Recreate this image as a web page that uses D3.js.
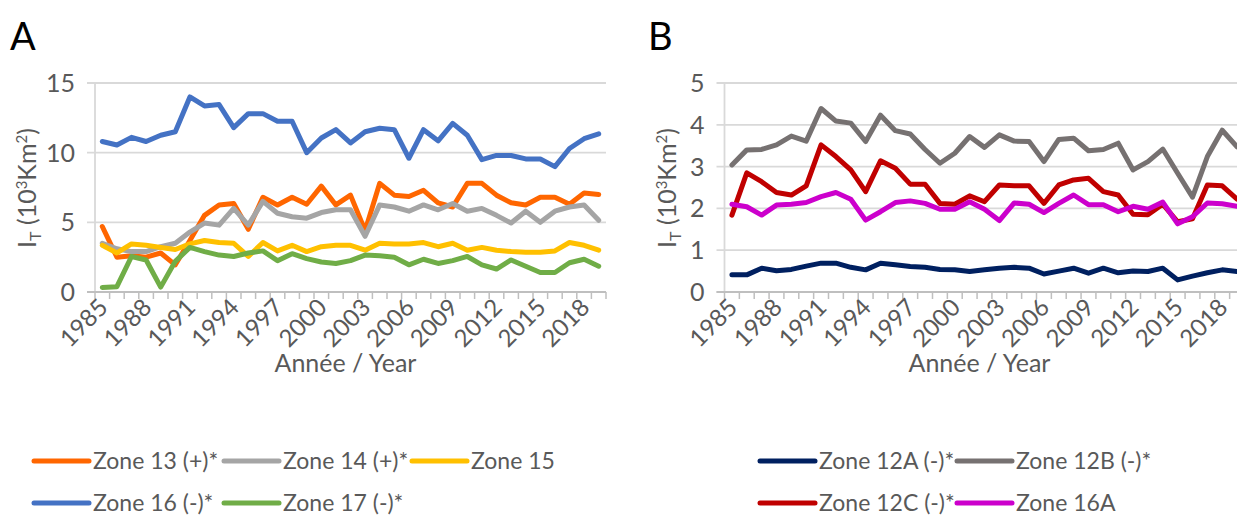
<!DOCTYPE html>
<html><head><meta charset="utf-8">
<script src="https://cdn.jsdelivr.net/npm/d3@7"></script>
<style>
body{margin:0;background:#fff}
svg{display:block}
text{font-family:Lato,"Open Sans",sans-serif;fill:#595959}
</style>
</head><body>
<svg id="c" width="1237" height="517"></svg>
<script>
// ---------- data ----------
const years = [1985,1986,1987,1988,1989,1990,1991,1992,1993,1994,1995,1996,1997,1998,1999,2000,2001,2002,2003,2004,2005,2006,2007,2008,2009,2010,2011,2012,2013,2014,2015,2016,2017,2018,2019];
const yearLabels = [1985,1988,1991,1994,1997,2000,2003,2006,2009,2012,2015,2018];
const yTicksA = [0,5,10,15];
const yTicksB = [0,1,2,3,4,5];

const zone13 = [4.7,2.5,2.6,2.5,2.8,1.95,3.7,5.5,6.25,6.35,4.5,6.8,6.25,6.8,6.3,7.6,6.25,6.95,4.4,7.8,6.95,6.85,7.3,6.4,6.1,7.8,7.8,6.95,6.4,6.25,6.8,6.8,6.3,7.1,7.0];
const zone14 = [3.5,3.1,2.9,2.9,3.25,3.5,4.3,4.95,4.8,6.0,4.8,6.5,5.65,5.4,5.3,5.7,5.9,5.9,4.0,6.25,6.1,5.8,6.25,5.9,6.35,5.8,6.0,5.5,4.95,5.8,5.0,5.8,6.1,6.25,5.15];
const zone15 = [3.35,2.8,3.45,3.35,3.2,3.05,3.45,3.7,3.55,3.5,2.55,3.55,2.95,3.35,2.9,3.25,3.35,3.35,3.0,3.5,3.45,3.45,3.55,3.25,3.5,3.0,3.2,3.0,2.9,2.85,2.85,2.95,3.55,3.35,3.0];
const zone16 = [10.8,10.55,11.1,10.8,11.25,11.5,14.0,13.35,13.45,11.8,12.8,12.8,12.25,12.25,10.0,11.05,11.65,10.7,11.5,11.75,11.65,9.6,11.65,10.85,12.1,11.25,9.5,9.8,9.8,9.55,9.55,9.0,10.3,11.0,11.35];
const zone17 = [0.33,0.38,2.55,2.3,0.35,2.2,3.2,2.9,2.65,2.55,2.8,2.95,2.25,2.75,2.4,2.15,2.05,2.25,2.65,2.6,2.5,1.95,2.35,2.05,2.25,2.55,1.95,1.65,2.3,1.85,1.4,1.4,2.1,2.35,1.85];

const zone12A = [0.41,0.41,0.57,0.51,0.54,0.62,0.69,0.69,0.59,0.53,0.69,0.65,0.61,0.59,0.54,0.53,0.49,0.53,0.57,0.59,0.57,0.43,0.5,0.57,0.45,0.57,0.46,0.5,0.49,0.57,0.29,0.38,0.46,0.53,0.49];
const zone12B = [3.04,3.4,3.41,3.52,3.73,3.61,4.39,4.09,4.04,3.6,4.23,3.86,3.78,3.41,3.08,3.32,3.72,3.46,3.76,3.61,3.6,3.12,3.65,3.68,3.38,3.41,3.56,2.92,3.12,3.42,2.84,2.27,3.24,3.87,3.47];
const zone12C = [1.84,2.85,2.64,2.38,2.32,2.54,3.52,3.24,2.92,2.4,3.14,2.96,2.58,2.58,2.12,2.1,2.3,2.16,2.56,2.54,2.54,2.12,2.56,2.68,2.72,2.4,2.32,1.86,1.85,2.1,1.68,1.75,2.56,2.54,2.22];
const zone16A = [2.1,2.04,1.84,2.08,2.1,2.14,2.28,2.38,2.22,1.72,1.92,2.14,2.18,2.12,1.98,1.98,2.16,1.98,1.71,2.13,2.1,1.9,2.12,2.32,2.09,2.09,1.92,2.05,1.98,2.15,1.63,1.8,2.13,2.11,2.05];

const namesA = ["Zone 13 (+)*","Zone 14 (+)*","Zone 15","Zone 16 (-)*","Zone 17 (-)*"];
const namesB = ["Zone 12A (-)*","Zone 12B (-)*","Zone 12C (-)*","Zone 16A"];
const xTitle = "Année / Year";

// ---------- drawing ----------
const svg = d3.select("#c");
svg.append("rect").attr("width",1237).attr("height",517).attr("fill","#fff");

function panel(o){
  const g = svg.append("g");
  const x = d3.scaleBand().domain(years).range([o.x0,o.x1]).padding(0);
  const y = d3.scaleLinear().domain([0,o.yMax]).range([292,83]);
  const cx = d => x(d)+x.bandwidth()/2;

  // gridlines
  g.selectAll(".grid").data(o.yTicks).join("line")
    .attr("x1",o.x0-8).attr("x2",o.x1).attr("y1",d=>y(d)).attr("y2",d=>y(d))
    .attr("stroke","#d9d9d9").attr("stroke-width",1.8);
  // y axis line
  g.append("line").attr("x1",o.x0).attr("x2",o.x0).attr("y1",83).attr("y2",292)
    .attr("stroke","#d9d9d9").attr("stroke-width",1.8);
  // x axis line + ticks at band boundaries
  g.append("line").attr("x1",o.x0-8).attr("x2",o.x1).attr("y1",292).attr("y2",292)
    .attr("stroke","#bfbfbf").attr("stroke-width",2);
  const bounds = years.map(d=>x(d)).concat([o.x1]);
  g.selectAll(".xt").data(bounds).join("line")
    .attr("x1",d=>d).attr("x2",d=>d).attr("y1",292).attr("y2",299)
    .attr("stroke","#bfbfbf").attr("stroke-width",1.5);

  // y tick labels
  g.selectAll(".yl").data(o.yTicks).join("text")
    .attr("x",o.x0-20).attr("y",d=>y(d)).attr("dy","0.36em")
    .attr("text-anchor","end").attr("font-size",25).text(d=>d);

  // x tick labels
  g.selectAll(".xl").data(yearLabels).join("text")
    .attr("transform",d=>`translate(${cx(d)+7},309) rotate(-45)`)
    .attr("text-anchor","end").attr("font-size",24).text(d=>d);

  // axis titles
  g.append("text").attr("x",(o.x0+o.x1)/2-5).attr("y",372).attr("text-anchor","middle")
    .attr("font-size",25).text(xTitle);
  const yt = g.append("text").attr("transform",`translate(${o.ytx},188) rotate(-90)`)
    .attr("text-anchor","middle").attr("font-size",25);
  yt.append("tspan").text("I");
  yt.append("tspan").attr("font-size",16).attr("dy",5).text("T");
  yt.append("tspan").attr("dy",-5).text(" (10");
  yt.append("tspan").attr("font-size",15).attr("dy",-9).text("3");
  yt.append("tspan").attr("dy",9).text("Km");
  yt.append("tspan").attr("font-size",15).attr("dy",-9).text("2");
  yt.append("tspan").attr("dy",9).text(")");

  // lines
  const line = d3.line().x((d,i)=>cx(years[i])).y(d=>y(d));
  o.series.forEach(s=>{
    g.append("path").attr("d",line(s.values)).attr("fill","none")
      .attr("stroke",s.color).attr("stroke-width",5)
      .attr("stroke-linejoin","round").attr("stroke-linecap","round");
  });

  // panel letter
  svg.append("text").attr("x",o.lx).attr("y",50).attr("font-size",38)
    .style("fill","#000").text(o.letter);

  // legend
  o.series.forEach((s,i)=>{
    const lx = o.legX[i%o.legCols], ly = [461,503][Math.floor(i/o.legCols)];
    g.append("line").attr("x1",lx).attr("x2",lx+55).attr("y1",ly).attr("y2",ly)
      .attr("stroke",s.color).attr("stroke-width",5).attr("stroke-linecap","round");
    g.append("text").attr("x",lx+59).attr("y",ly).attr("dy","0.36em")
      .attr("font-size",23).text(s.name);
  });
}

panel({letter:"A", lx:10, x0:95, x1:606, yMax:15, yTicks:yTicksA, ytx:36,
  legCols:3, legX:[34,224,412],
  series:[
    {name:namesA[0], values:zone13, color:"#ff6600"},
    {name:namesA[1], values:zone14, color:"#a5a5a5"},
    {name:namesA[2], values:zone15, color:"#ffc000"},
    {name:namesA[3], values:zone16, color:"#4472c4"},
    {name:namesA[4], values:zone17, color:"#70ad47"}
  ]});
panel({letter:"B", lx:648, x0:724.5, x1:1244.5, yMax:5, yTicks:yTicksB, ytx:676,
  legCols:2, legX:[760,957],
  series:[
    {name:namesB[0], values:zone12A, color:"#002060"},
    {name:namesB[1], values:zone12B, color:"#767171"},
    {name:namesB[2], values:zone12C, color:"#c00000"},
    {name:namesB[3], values:zone16A, color:"#cc00cc"}
  ]});
</script>
</body></html>
